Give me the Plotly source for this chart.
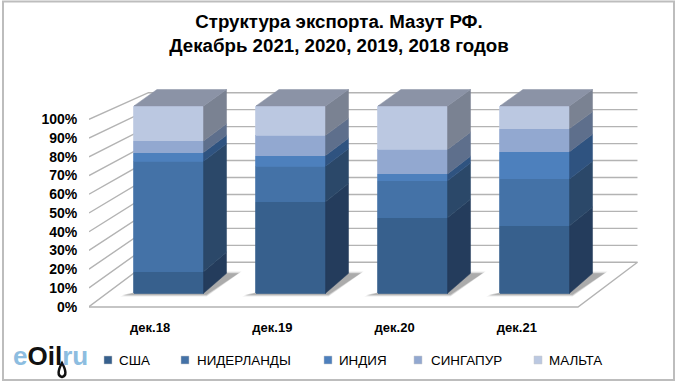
import plotly.graph_objects as go

W, H = 680, 385
categories = ["дек.18", "дек.19", "дек.20", "дек.21"]
usa = [11.5, 48.8, 40.3, 36.0]
netherlands = [59.0, 19.0, 19.7, 25.0]
india = [4.6, 5.7, 3.7, 14.6]
singapore = [6.2, 10.8, 13.1, 12.3]
malta = [18.7, 15.7, 23.2, 12.1]
names = ["США", "НИДЕРЛАНДЫ", "ИНДИЯ", "СИНГАПУР", "МАЛЬТА"]
series = [usa, netherlands, india, singapore, malta]
front_colors = ["#37608d", "#4472a7", "#4d80bd", "#92a8d0", "#bbc8e1"]
side_colors = ["#243c5c", "#2b4869", "#2f5380", "#5e6f8c", "#7a8292"]
top_color = "#8b93a6"
grid_color = "#b3b3b3"
tick_vals = list(range(0, 101, 10))
tick_text = [f"{v}%" for v in tick_vals]

# hand-placed legend row (pixels): swatch centres and text starts
legend_swatch_px = [108, 185, 328, 418, 538]
legend_text_px = [118, 196, 338, 430, 548]
legend_y_px = 360

# plot frame in pixels
L, R, T, B = 89, 638, 85, 310
# wall axes: y = percent on the front edge of the floor
wy_scale = 1.874
wy0_px = 306.7
wx_scale = 122.25
wx0_px = 150.1
# bar axes: y = percent on the bars' front face
by_scale = 1.874
by0_px = 293.3
bx_scale = 122.0
bx0_px = 168.75
bar_w = 0.57
depth_x = 23 / bx_scale
depth_y0 = 20 / by_scale
depth_k = 184 / 187.6


def rng(p0, s, a, b):
    return [(a - p0) / s, (b - p0) / s]


def b2w(x, y):
    """bar-axes coordinates to wall-axes coordinates"""
    return (
        (x * bx_scale + bx0_px - wx0_px) / wx_scale,
        (wy0_px - (by0_px - y * by_scale)) / wy_scale,
    )


fig = go.Figure()

# ---- walls and floor (wall axes) ----
floor_dx = 59.5 / wx_scale
floor_dy = 44.4 / wy_scale
back_k = 1.696 / 1.874
x_left, x_right = -0.5, 3.5
gx, gy = [], []
for v in tick_vals:
    by = floor_dy + v * back_k
    gx += [x_left, x_left + floor_dx, x_right + floor_dx, None]
    gy += [v, by, by, None]
gx += [x_left, x_right, x_right + floor_dx, None]
gy += [-0.2, -0.2, floor_dy, None]
fig.add_trace(go.Scatter(x=gx, y=gy, mode="lines", line=dict(color=grid_color, width=1.4),
                         showlegend=False, hoverinfo="skip"))

# floor shadows, layered for a soft edge
for i in range(len(categories)):
    for grow, alpha in ((3, 0.12), (1.5, 0.2), (0, 0.3)):
        xl, xr = i - bar_w / 2, i + bar_w / 2
        pts = [(xl - (11 + grow) / bx_scale, -0.8 - grow * 0.3),
               (xl + 20 / bx_scale, 2.5),
               (xr + depth_x, depth_y0 + grow * 0.3),
               (xr + depth_x + (12 + grow) / bx_scale, depth_y0 + grow * 0.3),
               (xr + 3 / bx_scale, -0.8 - grow * 0.3)]
        pts = [b2w(*p) for p in pts] + [b2w(*pts[0])]
        fig.add_trace(go.Scatter(x=[p[0] for p in pts], y=[p[1] for p in pts], mode="lines",
                                 fill="toself", fillcolor=f"rgba(90,90,90,{alpha})",
                                 line=dict(width=0), showlegend=False, hoverinfo="skip"))

# ---- bars (bar axes) ----
for name, vals, c in zip(names, series, front_colors):
    fig.add_trace(go.Bar(x=list(range(len(categories))), y=vals, name=name, width=bar_w,
                         marker=dict(color=c, line=dict(color=c, width=0.8)),
                         xaxis="x2", yaxis="y2", showlegend=False))

# side and top faces, derived from the same values
for i in range(len(categories)):
    xr = i + bar_w / 2
    xl = i - bar_w / 2
    base = 0.0
    for vals, c in zip(series, side_colors):
        top = base + vals[i]
        fig.add_trace(go.Scatter(
            x=[xr, xr + depth_x, xr + depth_x, xr, xr],
            y=[base, depth_y0 + base * depth_k, depth_y0 + top * depth_k, top, base],
            mode="lines", fill="toself", fillcolor=c, line=dict(color=c, width=0.5),
            xaxis="x2", yaxis="y2", showlegend=False, hoverinfo="skip"))
        base = top
    back_top = depth_y0 + base * depth_k
    fig.add_trace(go.Scatter(
        x=[xl, xl + depth_x, xr + depth_x, xr, xl],
        y=[base, back_top, back_top, base, base],
        mode="lines", fill="toself", fillcolor=top_color, line=dict(color=top_color, width=0.5),
        xaxis="x2", yaxis="y2", showlegend=False, hoverinfo="skip"))

FONT = "Liberation Sans, Arial, sans-serif"
legend_shapes = [
    dict(type="rect", xref="paper", yref="paper",
         x0=(px - 4) / W, x1=(px + 4) / W, y0=1 - (legend_y_px + 4) / H, y1=1 - (legend_y_px - 4) / H,
         fillcolor=c, line=dict(color="#c8c8c8", width=0.5))
    for px, c in zip(legend_swatch_px, front_colors)
]
legend_labels = [
    dict(text=n, xref="paper", yref="paper", x=px / W, y=1 - legend_y_px / H, xanchor="left", yanchor="middle",
         showarrow=False, xshift=0, font=dict(size=13.4, family=FONT, color="black"), borderpad=0)
    for n, px in zip(names, legend_text_px)
]

fig.update_layout(
    template="none",
    width=W, height=H, margin=dict(l=0, r=0, t=0, b=0, pad=0, autoexpand=False),
    paper_bgcolor="white", plot_bgcolor="rgba(0,0,0,0)",
    barmode="stack", bargap=0.43, showlegend=False,
    font=dict(family=FONT, color="black"),
    title=dict(text="<b>Структура экспорта. Мазут РФ.<br>Декабрь 2021, 2020, 2019, 2018 годов</b>",
               x=339 / W, xanchor="center", y=1 - 28 / H, yanchor="middle",
               font=dict(size=18.7, family=FONT, color="black")),
    xaxis=dict(domain=[L / W, R / W], range=rng(wx0_px, wx_scale, L, R), tickmode="array",
               tickvals=list(range(len(categories))), ticktext=[f"<b>{c}</b>" for c in categories],
               tickfont=dict(size=13), showgrid=False, zeroline=False, showline=False, automargin=False,
               ticks="outside", ticklen=5, tickcolor="rgba(0,0,0,0)", anchor="y"),
    yaxis=dict(domain=[1 - B / H, 1 - T / H], range=[(wy0_px - B) / wy_scale, (wy0_px - T) / wy_scale],
               tickmode="array", tickvals=tick_vals, ticktext=[f"<b>{t}</b>" for t in tick_text],
               tickfont=dict(size=14), showgrid=False, zeroline=False, showline=False, automargin=False,
               ticks="outside", ticklen=8, tickcolor="rgba(0,0,0,0)", anchor="x"),
    xaxis2=dict(domain=[L / W, R / W], range=rng(bx0_px, bx_scale, L, R), overlaying="x",
                visible=False, anchor="y2"),
    yaxis2=dict(domain=[1 - B / H, 1 - T / H], range=[(by0_px - B) / by_scale, (by0_px - T) / by_scale],
                overlaying="y", visible=False, anchor="x2"),
    shapes=[
        dict(type="rect", xref="paper", yref="paper", x0=3 / W, x1=674 / W, y0=1 - 380 / H, y1=1 - 1.5 / H,
             line=dict(color="#bdbdbd", width=2), fillcolor="rgba(0,0,0,0)", layer="below"),
        dict(type="path", xref="paper", yref="paper",
             path=f"M {62/W},{1-363/H} C {58/W},{1-370/H} {57/W},{1-376/H} {62/W},{1-377/H} "
                  f"C {67/W},{1-376/H} {66/W},{1-370/H} {62/W},{1-363/H} Z",
             fillcolor="#ffffff", line=dict(color="#111111", width=2.5)),
    ] + legend_shapes,
    annotations=[
        dict(text='<b><span style="color:#8dbde0">e</span><span style="color:#111111">Oil</span>'
                  '<span style="color:#8dbde0">ru</span></b>',
             xref="paper", yref="paper", x=11 / W, y=1 - 356 / H, xanchor="left", yanchor="middle",
             showarrow=False, font=dict(size=26, family=FONT)),
    ] + legend_labels,
)
fig.write_html("out.html", config={"displayModeBar": False},
               post_script="document.body.style.margin='0';")
